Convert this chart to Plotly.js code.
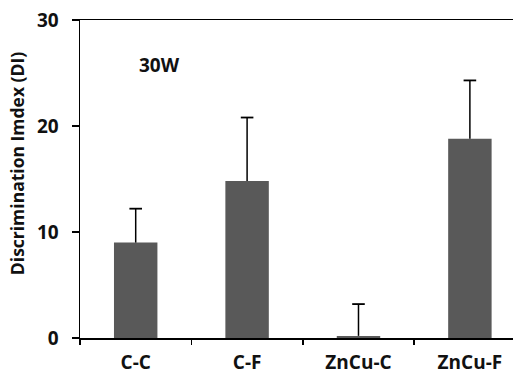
<!DOCTYPE html>
<html><head><meta charset="utf-8">
<script src="https://cdn.plot.ly/plotly-3.0.1.min.js"></script>
<style>html,body{margin:0;padding:0;background:#fff;}#chart{width:513px;height:374px;}</style>
</head><body><div id="chart"></div>
<script>
const categories = ["C-C", "C-F", "ZnCu-C", "ZnCu-F"];
const values = [9.0, 14.8, 0.2, 18.8];
const errors = [3.2, 6.0, 3.0, 5.5];
const yTicks = [0, 10, 20, 30];
const note = "30W";
const yTitle = "Discrimination Imdex (DI)";

const F = "Open Sans, Liberation Sans, sans-serif";
const tops = values.map((v, i) => v + errors[i]);
const data = [{
  type: "bar", x: categories, y: values,
  marker: {color: "#595959", line: {width: 0}},
  width: 0.39,
  error_y: {type: "data", array: errors, symmetric: false, arrayminus: errors.map(()=>0),
            visible: true, color: "#000", thickness: 1.5, width: 0}
}, {
  type: "scatter", mode: "markers", x: categories, y: tops,
  marker: {symbol: "line-ew", size: 9, color: "#000", line: {color: "#000", width: 1.8}},
  hoverinfo: "skip"
}];
const layout = {
  width: 513, height: 374,
  margin: {l: 80, r: 0, t: 20, b: 36},
  paper_bgcolor: "#fff", plot_bgcolor: "#fff",
  showlegend: false,
  xaxis: {
    type: "category", range: [-0.5, 3.387],
    showline: true, linecolor: "#000", linewidth: 1.5, mirror: true,
    ticks: "outside", ticklen: 5, tickwidth: 1.5, tickcolor: "#000", tickson: "boundaries",
    showgrid: false, zeroline: false, ticklabelstandoff: 7,
    tickfont: {family: F, size: 19, color: "#111", weight: "bold"}
  },
  yaxis: {
    range: [0, 30], tickvals: yTicks, ticktext: yTicks.map(String),
    showline: true, linecolor: "#000", linewidth: 1.5, mirror: false,
    ticks: "outside", ticklen: 7, tickwidth: 1.5, tickcolor: "#000",
    showgrid: false, zeroline: false, ticklabelstandoff: 9,
    tickfont: {family: F, size: 19, color: "#111", weight: "bold"}
  },
  annotations: [{
    text: note, x: 0.21, y: 25.8, xref: "x", yref: "y", showarrow: false,
    font: {family: F, size: 19, color: "#111", weight: "bold"}
  }, {
    text: yTitle, textangle: -90, x: 0, xref: "paper", xshift: -63, xanchor: "center",
    y: 16.4, yref: "y", yanchor: "middle", showarrow: false,
    font: {family: F, size: 17.5, color: "#111", weight: "bold"}
  }]
};
Plotly.newPlot("chart", data, layout, {displayModeBar: false, staticPlot: true});
</script></body></html>
